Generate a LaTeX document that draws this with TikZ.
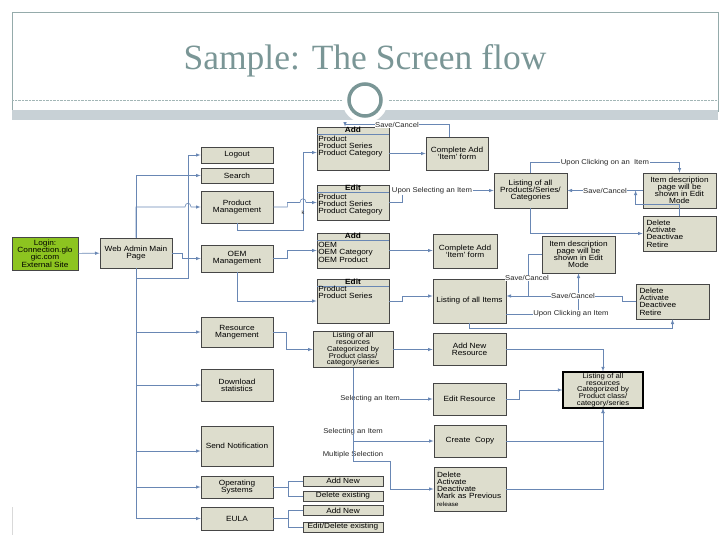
\documentclass[tikz,border=0pt]{standalone}
\usepackage{fontspec}
\setmainfont{Liberation Sans}[FakeStretch=1.1]
\newfontfamily\titlefont{Liberation Serif}
\usetikzlibrary{arrows}
\definecolor{boxfill}{RGB}{221,221,205}
\definecolor{boxedge}{RGB}{70,70,70}
\definecolor{steelline}{RGB}{105,135,180}
\definecolor{loginfill}{RGB}{141,196,32}
\definecolor{titlegray}{RGB}{122,150,150}
\definecolor{bandgray}{RGB}{200,209,214}

\begin{document}
\begin{tikzpicture}[x=1pt, y=-1pt,
    scr/.style={draw=boxedge, fill=boxfill, line width=0.8pt, align=center, inner sep=1pt,
                font=\fontsize{7.5}{7.3}\selectfont, minimum width=72pt},
    lst/.style={scr, align=left, text width=66pt, inner xsep=3pt},
    hdr/.style={inner sep=0.5pt, font=\fontsize{7.5}{7}\selectfont\bfseries, text height=5.5pt, text depth=1pt},
    itm/.style={inner sep=1.5pt, align=left, font=\fontsize{7.5}{6.9}\selectfont},
    sub/.style={scr, minimum width=80pt, minimum height=10pt, inner sep=0pt, line width=0.6pt},
    conn/.style={draw=steelline, line width=0.6pt, -latex},
    wire/.style={draw=steelline, line width=0.6pt},
    lbl/.style={fill=white, inner sep=0.5pt, font=\fontsize{7}{7}\selectfont, text=black!85}]
\useasboundingbox (0,0) rectangle (728,546);

% Slide heading
\draw[titlegray!80, line width=0.8pt] (12,112) -- (12,12) -- (718,12) -- (718,112);
\fill[bandgray] (12,110) rectangle (718,120);
\draw[titlegray!70, densely dotted] (12,100) -- (718,100);
\fill[white] (365,100) circle (23);
\draw[titlegray, line width=3.5pt, fill=white] (365,100) circle (16);
\node[titlegray, anchor=base, inner sep=0pt, font=\titlefont\fontsize{35.5}{36}\selectfont] (title) at (365,69) {Sample: The Screen flow};
\draw[gray!30] (12,507) -- (12,535);

% Login and main page
\node[scr, fill=loginfill, minimum width=66pt, minimum height=33pt] (login) at (45,253.5) {Login:\\Connection.glo\\gic.com\\External Site};
\node[scr, minimum height=30pt] (main) at (136,253) {Web Admin Main\\Page};

% Menu column
\node[scr, minimum height=16pt] (logout)   at (237,155)   {Logout};
\node[scr, minimum height=15pt] (search)   at (237,175.5) {Search};
\node[scr, minimum height=32pt] (prodmgmt) at (237,207)   {Product\\Management};
\node[scr, minimum height=27pt] (oemmgmt)  at (237,258.5) {OEM\\Management};
\node[scr, minimum height=30pt] (resmgmt)  at (237,332)   {Resource\\Mangement};
\node[scr, minimum height=32pt] (download) at (237,385)   {Download\\statistics};
\node[scr, minimum height=40pt] (notify)   at (237,446)   {Send Notification};
\node[scr, minimum height=22pt] (os)       at (237,487)   {Operating\\Systems};
\node[scr, minimum height=23pt] (eula)     at (237,518.5) {EULA};

% Add / Edit forms
\node[scr, minimum height=43pt] (addprod) at (353,148.5) {};
\node[hdr, anchor=north] (addprodh) at (addprod.north) {Add};
\draw[steelline, line width=0.6pt] (addprod.west |- addprodh.south) -- (addprod.east |- addprodh.south);
\node[itm, anchor=north west] (addprodi) at (addprod.west |- addprodh.south) {Product\\Product Series\\Product Category};

\node[scr, minimum height=35pt] (editprod) at (353,202.5) {};
\node[hdr, anchor=north] (editprodh) at (editprod.north) {Edit};
\draw[steelline, line width=0.6pt] (editprod.west |- editprodh.south) -- (editprod.east |- editprodh.south);
\node[itm, anchor=north west] (editprodi) at (editprod.west |- editprodh.south) {Product\\Product Series\\Product Category};

\node[scr, minimum height=35pt] (addoem) at (353,250.5) {};
\node[hdr, anchor=north] (addoemh) at (addoem.north) {Add};
\draw[steelline, line width=0.6pt] (addoem.west |- addoemh.south) -- (addoem.east |- addoemh.south);
\node[itm, anchor=north west] (addoemi) at (addoem.west |- addoemh.south) {OEM\\OEM Category\\OEM Product};

\node[scr, minimum height=44pt] (editoem) at (353,301) {};
\node[hdr, anchor=north] (editoemh) at (editoem.north) {Edit};
\draw[steelline, line width=0.6pt] (editoem.west |- editoemh.south) -- (editoem.east |- editoemh.south);
\node[itm, anchor=north west] (editoemi) at ([yshift=2pt]editoem.west |- editoemh.south) {Product\\Product Series};

\node[scr, minimum width=80pt, minimum height=35pt, font=\fontsize{7}{6.8}\selectfont] (reslist) at (353,349.5) {Listing of all\\resources\\Categorized by\\Product class/\\category/series};

% Result screens
\node[scr, minimum width=62pt, minimum height=33pt] (compadd1) at (457,153.5) {Complete Add\\`Item' form};
\node[scr, minimum width=64pt, minimum height=34pt] (compadd2) at (465,251)   {Complete Add\\`Item' form};
\node[scr, minimum width=73pt, minimum height=44pt] (listitems) at (469.5,301) {Listing of all Items};
\node[scr, minimum width=73pt, minimum height=32pt] (addres)   at (469.5,349) {Add New\\Resource};
\node[scr, minimum width=73pt, minimum height=32pt] (editres)  at (469.5,399) {Edit Resource};
\node[scr, minimum height=32pt] (copy)   at (470,441) {Create~ Copy};
\node[lst, minimum height=44pt] (delres) at (470,489) {Delete\\Activate\\Deactivate\\Mark as Previous\\{\fontsize{6}{6.8}\selectfont release}};

\node[scr, minimum width=73pt, minimum height=35pt] (listprod) at (530.5,190.5) {Listing of all\\Products/Series/\\Categories};
\node[scr, minimum width=73pt, minimum height=35pt, font=\fontsize{7.5}{7}\selectfont] (desc1) at (679.5,190.5) {Item description\\page will be\\shown in Edit\\Mode};
\node[lst, minimum width=73pt, minimum height=35pt] (del1)     at (679.5,233.5) {Delete\\Activate\\Deactivae\\Retire};
\node[scr, minimum width=73pt, minimum height=37pt, font=\fontsize{7.5}{7}\selectfont] (desc2) at (578.5,254.5) {Item description\\page will be\\shown in Edit\\Mode};
\node[lst, minimum width=73pt, minimum height=35pt] (del2)     at (672.5,301.5) {Delete\\Activate\\Deactivee\\Retire};
\node[scr, draw=black, line width=1.2pt, minimum width=80pt, minimum height=36pt, font=\fontsize{7}{6.8}\selectfont] (reslist2) at (603,390) {Listing of all\\resources\\Categorized by\\Product class/\\category/series};

% Sub items
\node[sub] (osadd)  at (343,481)   {Add New};
\node[sub] (osdel)  at (343,496)   {Delete existing};
\node[sub] (euadd)  at (343,510.5) {Add New};
\node[sub] (euedit) at (343,527)   {Edit/Delete existing};

% Junctions
\coordinate (jx)  at (188,278);
\coordinate (kx)  at (303,230);
\coordinate (scj) at (528,296);

% Main menu links
\draw[conn] (login) -- (main);
\draw[conn] (main.north) |- (search.west);
\draw[conn] (main.north) |- ([xshift=-3pt]jx |- prodmgmt.west) .. controls +(0,-5) and +(0,-5) .. ([xshift=3pt]jx |- prodmgmt.west) -- (prodmgmt.west);
\draw[conn] (main.south) |- (jx) |- (logout.west);
\draw[conn] (main.east) -- ++(10,0) |- (oemmgmt.west);
\draw[conn] (main.south) |- (resmgmt.west);
\draw[conn] (main.south) |- (download.west);
\draw[conn] ([yshift=-5pt]notify.west -| main.south) -- ([yshift=-5pt]notify.west);
\draw[conn] (main.south) |- (os.west);
\draw[conn] (main.south) |- (eula.west);

% Product management
\draw[conn] (prodmgmt.east) -- ++(14,0) |- ([xshift=-3pt]kx |- editprod.west) .. controls +(0,-5) and +(0,-5) .. ([xshift=3pt]kx |- editprod.west) -- (editprod.west);
\draw[conn] (prodmgmt.south) |- (kx) |- ([yshift=-4pt]addprod.west);
\node[lbl, fill=none, font=\fontsize{5}{5}\selectfont] (kmark) at (303,213) {k};
\draw[conn] (addprod.east |- compadd1.west) -- (compadd1.west);
\draw[conn] ([xshift=-8pt]compadd1.north) -- ++(0,-12) -| ([xshift=-8pt]addprod.north);
\draw[conn] (editprod.east) -- ++(13,0) |- (listprod.west);
\draw[conn] (listprod.north) -- ++(0,-10) -| (desc1.north);
\draw[conn] (desc1.west) -- (listprod.east);
\draw[conn] (del1.north) -- ++(0,-11) -| ([xshift=-7pt]desc1.west);
\draw[conn] (listprod.south) |- (del1.west);

% OEM management
\draw[conn] (oemmgmt.east) -- ++(14,0) |- (addoem.west);
\draw[conn] (oemmgmt.south) |- (editoem.west);
\draw[conn] (addoem.east) -- (compadd2.west |- addoem.east);
\draw[conn] (editoem.east) -- ++(13,0) |- ([yshift=5pt]listitems.west);
\draw[conn] (del2.west) -- ++(-13,0) |- ([yshift=5pt]listitems.east);
\draw[wire] (desc2.west) -| (scj);
\draw[conn] ([yshift=-13pt]listitems.east) -| (desc2.south);
\draw[conn] (listitems.south) -- ++(0,5) -| (del2.south);

% Resource management
\draw[conn] (resmgmt.east) -- ++(13,0) |- (reslist.west);
\draw[conn] (reslist.east) -- (addres.west |- reslist.east);
\draw[conn] (reslist.south) |- (editres.west);
\draw[conn] (reslist.south) |- (copy.west);
\draw[conn] (reslist.south) -- ++(0,94) -- ++(37,0) |- (delres.west);
\draw[conn] (addres.east) -| (reslist2.north);
\draw[conn] (editres.east) -- ++(13,0) |- (reslist2.west);
\draw[conn] (copy.east) -| (reslist2.south);
\draw[conn] (delres.east) -| (reslist2.south);

% Operating systems and EULA
\draw[wire] (os.east) -- ++(15,0) coordinate (osj);
\draw[wire] (osj) |- (osadd.west);
\draw[wire] (osj) |- (osdel.west);
\draw[wire] (eula.east) -- ++(15,0) coordinate (euj);
\draw[wire] (euj) |- (euadd.west);
\draw[wire] (euj) |- (euedit.west);

% Link labels
\node[lbl] (sc1)   at (397,125)   {Save/Cancel};
\node[lbl] (usel)  at (432,191)   {Upon Selecting an Item};
\node[lbl] (uclk1) at (605,163)   {Upon Clicking on an~ Item};
\node[lbl] (sc2)   at (605,190.5) {Save/Cancel};
\node[lbl] (sc3)   at (527,278)   {Save/Cancel};
\node[lbl] (sc4)   at (573,296)   {Save/Cancel};
\node[lbl] (uclk2) at (571,314)   {Upon Clicking an Item};
\node[lbl] (sel1)  at (370,399)   {Selecting an Item};
\node[lbl] (sel2)  at (353,432)   {Selecting an Item};
\node[lbl] (multi) at (353,455)   {Multiple Selection};
\draw[wire] (reslist.south) -- ++(0,94);
\end{tikzpicture}
\end{document}
